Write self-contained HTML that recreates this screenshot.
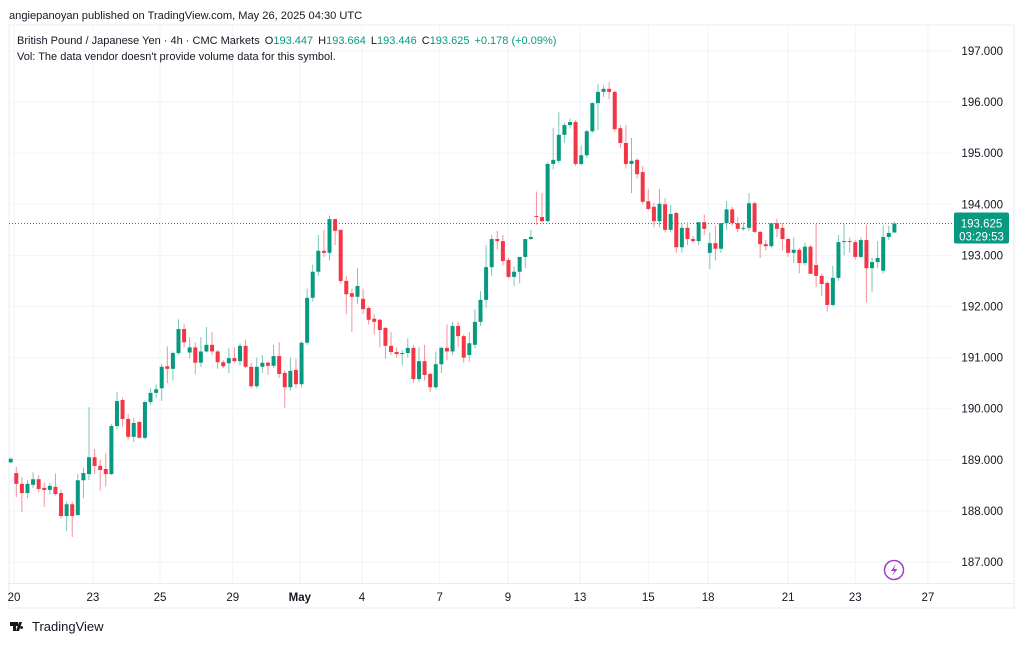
<!DOCTYPE html>
<html><head><meta charset="utf-8">
<style>
html,body{margin:0;padding:0;background:#fff;}
body{width:1024px;height:642px;overflow:hidden;font-family:"Liberation Sans",sans-serif;}
svg text{font-family:"Liberation Sans",sans-serif;}
</style></head>
<body>
<svg id="chart" width="1024" height="642" viewBox="0 0 1024 642" xmlns="http://www.w3.org/2000/svg">
<text x="9" y="19" font-size="11.1" fill="#131722">angiepanoyan published on TradingView.com, May 26, 2025 04:30 UTC</text>
<rect x="9" y="25" width="1005" height="583" fill="none" stroke="#e9ebef" stroke-width="1"/>
<g id="grid"></g>
<g id="candles"></g>
<g id="axes"></g>
<text x="17" y="44" font-size="11" fill="#131722">British Pound / Japanese Yen · 4h · CMC Markets <tspan dx="2">O</tspan><tspan fill="#089981">193.447</tspan><tspan dx="5">H</tspan><tspan fill="#089981">193.664</tspan><tspan dx="5">L</tspan><tspan fill="#089981">193.446</tspan><tspan dx="5">C</tspan><tspan fill="#089981">193.625</tspan><tspan dx="5" fill="#089981">+0.178 (+0.09%)</tspan></text>
<text x="17" y="60" font-size="11" fill="#131722">Vol: The data vendor doesn't provide volume data for this symbol.</text>
<g><circle cx="894" cy="570" r="9.5" fill="#fff" stroke="#a43cc8" stroke-width="1.5"/><path d="M896 564 L891 571 L894.5 571 L892 576 L897.5 569 L894 569 Z" fill="#a43cc8"/></g>
<g><path d="M10 622 h8 v4 h-2 v5 h-3 v-5 h-3z M19 622 h3 l-3 9 h-3z M21.5 626 a1.5 1.5 0 1 0 0.01 0z" fill="#131722"/><text x="32" y="631" font-size="13" fill="#131722">TradingView</text></g>
</svg>
<script>
const opens=[188.95,188.74,188.53,188.35,188.51,188.62,188.45,188.41,188.47,188.35,187.9,188.13,187.92,188.6,188.72,189.05,188.88,188.82,188.72,189.66,190.17,189.8,189.45,189.74,189.43,190.13,190.31,190.4,190.83,190.78,191.09,191.56,191.1,191.2,190.9,191.12,191.25,191.12,190.91,190.89,190.99,190.93,191.23,190.82,190.44,190.82,190.9,190.84,191.03,190.7,190.42,190.76,190.48,191.29,192.17,192.68,193.09,193.05,193.71,193.5,192.5,192.26,192.19,192.15,191.97,191.76,191.74,191.58,191.23,191.11,191.07,191.09,191.19,190.58,190.93,190.68,190.42,190.87,191.19,191.12,191.62,191.42,191.05,191.25,191.7,192.13,192.77,193.32,193.28,192.91,192.58,192.68,192.97,193.32,193.77,193.75,193.67,194.79,194.85,195.36,195.55,195.61,194.79,194.96,195.43,195.98,196.2,196.26,196.2,195.49,195.2,194.79,194.87,194.63,194.06,193.95,193.67,194.0,193.5,193.83,193.16,193.54,193.32,193.28,193.65,193.05,193.24,193.13,193.63,193.9,193.63,193.52,193.54,194.02,193.46,193.22,193.18,193.63,193.54,193.32,193.05,193.11,192.85,193.17,192.81,192.6,192.46,192.03,192.56,193.26,193.28,193.26,192.97,193.3,192.75,192.87,192.7,193.36,193.447];
const highs=[189.05,188.86,188.66,188.6,188.75,188.7,188.56,188.55,188.73,188.42,188.18,188.18,188.72,188.85,190.03,189.21,189.0,189.12,189.7,190.32,190.22,189.9,189.82,189.76,190.16,190.4,190.48,190.88,191.22,191.12,191.75,191.66,191.4,191.3,191.4,191.6,191.5,191.15,190.95,191.18,191.2,191.28,191.35,190.9,191.0,191.05,190.92,191.25,191.3,190.75,191.0,190.98,191.32,192.35,192.82,193.4,193.5,193.78,193.72,193.5,192.6,192.35,192.75,192.35,192.0,191.85,191.76,191.6,191.5,191.2,191.15,191.38,191.25,191.2,191.25,190.7,191.12,191.22,191.65,191.7,191.7,191.45,191.5,191.95,192.3,193.2,193.4,193.48,193.4,192.95,192.78,192.97,193.32,193.5,194.25,194.22,194.82,195.5,195.8,195.6,195.68,195.65,195.15,195.46,196.0,196.36,196.33,196.39,196.22,195.55,195.55,195.3,194.9,194.75,194.3,194.03,194.3,194.12,193.98,193.85,193.62,193.65,193.38,193.65,193.8,193.45,193.58,193.63,194.06,193.95,193.75,193.65,194.22,194.05,193.48,193.3,193.63,193.72,193.63,193.35,193.35,193.15,193.25,193.2,193.62,192.65,192.5,192.8,193.4,193.62,193.35,193.3,193.35,193.6,192.95,193.28,193.58,193.58,193.664];
const lows=[188.93,188.27,187.98,188.25,188.45,188.36,188.08,188.32,188.3,187.85,187.6,187.49,187.9,188.25,188.6,188.72,188.4,188.48,188.7,189.6,189.65,189.4,189.35,189.42,189.4,190.08,190.2,190.15,190.5,190.55,191.05,191.2,190.98,190.68,190.82,191.1,191.05,190.78,190.8,190.7,190.9,190.85,190.8,190.4,190.4,190.7,190.66,190.8,190.6,190.02,190.35,190.4,190.42,191.25,192.1,192.6,192.97,192.9,193.2,192.45,191.85,191.5,192.05,191.85,191.65,191.45,191.2,190.98,191.05,191.0,190.85,191.0,190.5,190.52,190.55,190.32,190.38,190.7,190.95,191.05,191.2,190.9,190.92,191.18,191.62,191.98,192.6,193.12,192.8,192.55,192.4,192.45,192.75,193.3,193.6,193.64,193.66,194.68,194.8,195.2,195.48,194.75,194.76,194.9,195.4,195.45,196.1,196.05,195.42,195.1,194.7,194.22,194.5,194.0,193.88,193.55,193.55,193.45,193.45,193.05,193.05,193.2,193.25,193.2,193.4,192.73,192.9,193.05,193.5,193.58,193.45,193.48,193.48,193.44,192.95,193.1,193.15,193.35,193.1,192.97,192.85,192.65,192.8,192.65,192.38,192.2,191.9,192.0,192.5,193.0,193.05,192.92,192.95,192.08,192.28,192.75,192.65,193.3,193.446];
const closes=[189.02,188.53,188.35,188.53,188.62,188.43,188.41,188.49,188.33,187.9,188.13,187.9,188.6,188.74,189.05,188.88,188.8,188.72,189.66,190.15,189.8,189.45,189.72,189.43,190.13,190.31,190.38,190.82,190.78,191.09,191.56,191.3,191.2,190.9,191.12,191.25,191.12,190.91,190.83,190.99,190.93,191.23,190.82,190.44,190.82,190.9,190.84,191.03,190.68,190.42,190.74,190.48,191.29,192.17,192.68,193.09,193.05,193.71,193.48,192.5,192.24,192.19,192.4,191.95,191.74,191.7,191.54,191.23,191.11,191.07,191.09,191.19,190.58,190.93,190.66,190.42,190.87,191.19,191.12,191.62,191.42,191.0,191.28,191.7,192.13,192.77,193.32,193.28,192.89,192.58,192.68,192.97,193.32,193.36,193.75,193.67,194.79,194.87,195.36,195.55,195.61,194.79,194.96,195.43,195.98,196.2,196.26,196.2,195.47,195.2,194.79,194.85,194.59,194.05,193.91,193.67,194.01,193.5,193.81,193.16,193.54,193.32,193.28,193.65,193.52,193.24,193.13,193.63,193.9,193.63,193.52,193.54,194.02,193.46,193.22,193.18,193.63,193.52,193.32,193.05,193.11,192.85,193.17,192.64,192.6,192.44,192.03,192.56,193.26,193.28,193.26,192.97,193.3,192.75,192.87,192.95,193.36,193.44,193.625];
const priceTicks=[187,188,189,190,191,192,193,194,195,196,197];
const dateLabels=["20","23","25","29","May","4","7","9","13","15","18","21","23","27"];
const dateIndex=[0.6,14.7,26.7,39.7,51.7,62.8,76.7,88.9,101.8,114,124.7,139,151,164];
const lastPrice=193.625;

const NS="http://www.w3.org/2000/svg";
function yScale(p){return 51+(197-p)*51.1;}
function xScale(i){return 10.7+i*5.593;}
function mk(tag,attrs,parent){const e=document.createElementNS(NS,tag);for(const k in attrs)e.setAttribute(k,attrs[k]);parent.appendChild(e);return e;}
const grid=document.getElementById('grid'),cg=document.getElementById('candles'),ax=document.getElementById('axes');
priceTicks.forEach(p=>{
  const y=yScale(p);
  const l=mk('line',{x1:9,x2:953,y1:y,y2:y,stroke:'#f0f3fa','stroke-width':1},grid);
  
  
  const t=mk('text',{x:1003,y:y+4,'font-size':11.5,fill:'#131722','text-anchor':'end'},ax);
  t.textContent=p.toFixed(3);
  
  
});
dateLabels.forEach((d,k)=>{
  const x=xScale(dateIndex[k]);
  const l=mk('line',{x1:x,x2:x,y1:25,y2:583,stroke:'#f0f3fa','stroke-width':1},grid);
  
  
  const t=mk('text',{x:x,y:601,'font-size':11.5,fill:'#131722','text-anchor':'middle','font-weight':d==='May'?'bold':'normal'},ax);
  t.textContent=d;
  
  
});
const sep=mk('line',{x1:9,x2:1014,y1:583.5,y2:583.5,stroke:'#e9ebef','stroke-width':1},ax);


const ly=yScale(lastPrice);
const pl=mk('line',{x1:9,x2:953,y1:ly,y2:ly,stroke:'#089981','stroke-width':1,'stroke-dasharray':'1 2'},cg);


for(let i=0;i<closes.length;i++){
  const up=closes[i]>=opens[i];
  const col=up?'#089981':'#f23645';
  const wick=up?'#7cc7b2':'#f5919a';
  const x=xScale(i);
  const g=mk('g',{},cg);
  
  
  mk('line',{x1:x,x2:x,y1:yScale(highs[i]),y2:yScale(lows[i]),stroke:wick,'stroke-width':1},g);
  const yt=yScale(Math.max(opens[i],closes[i])),yb=yScale(Math.min(opens[i],closes[i]));
  mk('rect',{x:x-2,y:yt,width:4,height:Math.max(1,yb-yt),fill:col},g);
}
const lb=mk('g',{},ax);


mk('rect',{x:954,y:ly-11,width:55,height:31,rx:2,fill:'#089981'},lb);
const t1=mk('text',{x:981.5,y:ly+4,'font-size':11.5,fill:'#fff','text-anchor':'middle'},lb);t1.textContent=lastPrice.toFixed(3);
const t2=mk('text',{x:981.5,y:ly+17,'font-size':11.5,fill:'#fff','text-anchor':'middle'},lb);t2.textContent='03:29:53';
</script>
</body></html>
